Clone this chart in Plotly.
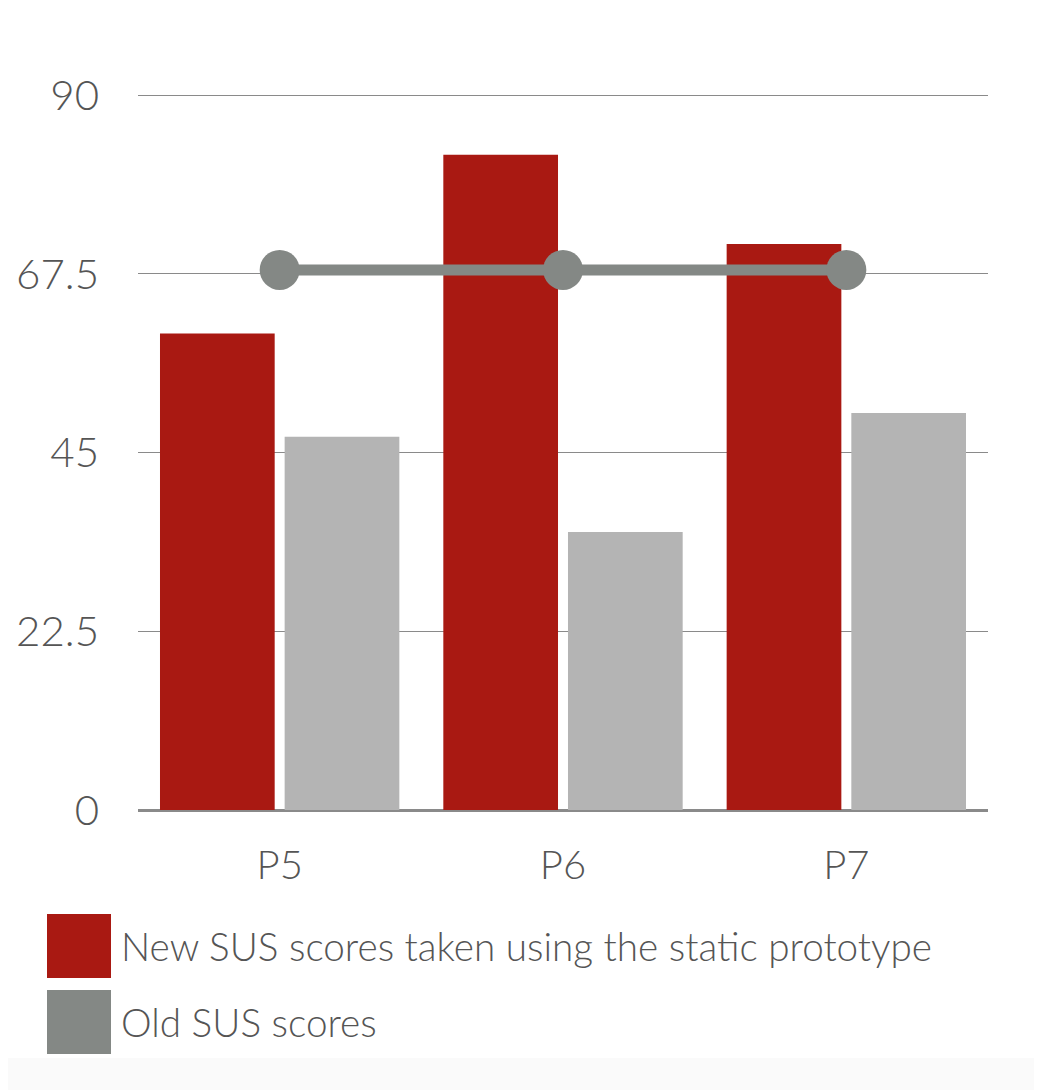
import plotly.graph_objects as go

# ---------- data ----------
participants = ["P5", "P6", "P7"]
new_sus = [60, 82.5, 71.25]
old_sus = [47, 35, 50]
sus_average = [68, 68, 68]
y_ticks = [0, 22.5, 45, 67.5, 90]
y_tick_text = ["0", "22.5", "45", "67.5", "90"]
legend_labels = ["New SUS scores taken using the static prototype", "Old SUS scores"]

red = "#a91912"
light_grey = "#b4b4b4"
dark_grey = "#848885"
text_col = "#555555"
font_family = "Lato"

# plot area wanted at x 138-988, y 94-810 in the screenshot (page has 8px body margin)
OFFX, OFFY = 8, 8
PL, PR, PT, PB = 138, 988, 94, 810
PW, PH = PR - PL, PB - PT


def px_x(x):
    return (x - PL) / PW


def px_y(y):
    return (PB - y) / PH


fig = go.Figure()

fig.add_trace(go.Bar(x=participants, y=new_sus, marker_color=red,
                     marker_line_width=0, showlegend=False))
fig.add_trace(go.Bar(x=participants, y=old_sus, marker_color=light_grey,
                     marker_line_width=0, showlegend=False))
fig.add_trace(go.Scatter(x=participants, y=sus_average, mode="lines+markers",
                         line=dict(color=dark_grey, width=11),
                         marker=dict(size=40, color=dark_grey),
                         showlegend=False))

# hand made legend with big square swatches
legend_cols = [red, dark_grey]
legend_y = [946, 1022]
for lab, col, yc in zip(legend_labels, legend_cols, legend_y):
    fig.add_shape(type="rect", xref="paper", yref="paper",
                  x0=px_x(47), x1=px_x(111),
                  y0=px_y(yc + 32), y1=px_y(yc - 32),
                  fillcolor=col, line_width=0)
    fig.add_annotation(text=lab, xref="paper", yref="paper",
                       x=px_x(119), y=px_y(yc),
                       xanchor="left", yanchor="middle", showarrow=False,
                       font=dict(family=font_family, size=38.7, color=text_col, weight=300))

# faint strip at the very bottom
fig.add_shape(type="rect", xref="paper", yref="paper", layer="below",
              x0=px_x(-20), x1=px_x(1100),
              y0=px_y(1100), y1=px_y(1058),
              fillcolor="#fafafa", line_width=0)

fig.update_layout(
    width=1042, height=1090,
    margin=dict(l=PL - OFFX, r=1042 + OFFX - PR, t=PT - OFFY, b=1090 + OFFY - PB),
    paper_bgcolor="white", plot_bgcolor="white",
    barmode="group", bargap=0.12, bargroupgap=0.08,
    font=dict(family=font_family, color=text_col, weight=300),
)
fig.update_xaxes(range=[-0.5, 2.5], showgrid=False, showline=False, ticks="",
                 automargin=False,
                 tickfont=dict(size=40, color=text_col, weight=300),
                 ticklabelstandoff=28)
fig.update_yaxes(range=[0, 90.15], tickvals=y_ticks, ticktext=y_tick_text,
                 automargin=False,
                 showgrid=True, gridcolor="#8a8a8a", gridwidth=1.3,
                 zeroline=True, zerolinecolor="#8a8a8a", zerolinewidth=2.5,
                 showline=False, ticks="",
                 tickfont=dict(size=42, color=text_col, weight=300),
                 ticklabelstandoff=38)

fig.write_html("out.html")
